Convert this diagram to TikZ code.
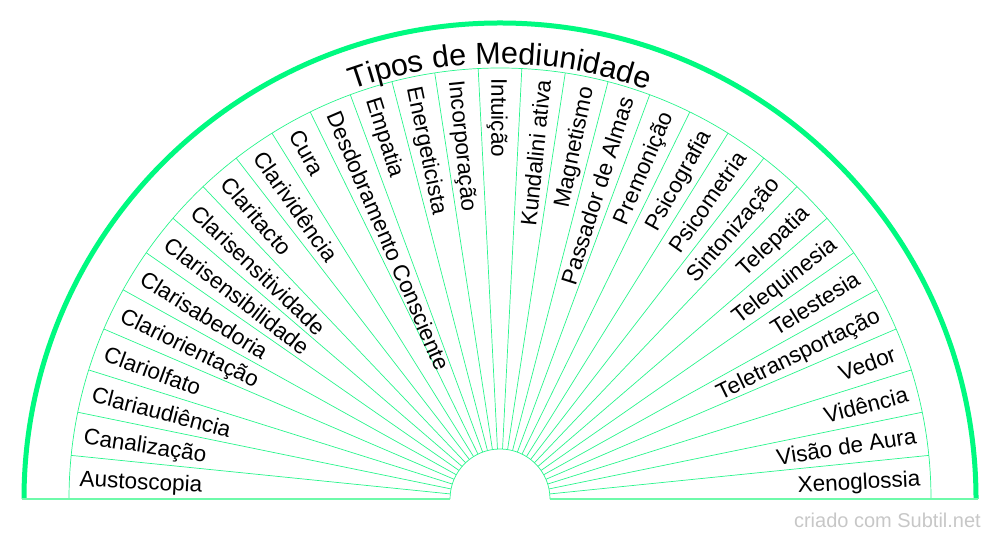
\documentclass[tikz,border=0pt]{standalone}
\usepackage{fontspec}
\setmainfont{Liberation Sans}
\usetikzlibrary{decorations.text}
\definecolor{gthick}{RGB}{0,250,128}
\definecolor{gthin}{RGB}{40,245,140}
\definecolor{gbase}{RGB}{110,250,170}
\begin{document}
\begin{tikzpicture}[x=1pt,y=1pt,
  thinl/.style={draw=gthin,line width=0.7pt},
  lbl/.style={font=\fontsize{22.5}{23}\selectfont,inner sep=0pt}]
\useasboundingbox (0,0) rectangle (1000,540);
\coordinate (c) at (500,41);
\draw[draw=gthick,line width=5pt] ([shift={(180:476)}]c) arc[start angle=180,end angle=0,radius=476];
\draw[thinl] ([shift={(180:431)}]c) arc[start angle=180,end angle=0,radius=431];
\draw[thinl] ([shift={(180:50)}]c) arc[start angle=180,end angle=0,radius=50];
\foreach \k in {1,...,30}{
  \draw[thinl] ([shift={(\k*180/31:50)}]c) -- ([shift={(\k*180/31:431)}]c);
}
\draw[draw=gbase,line width=2.5pt] ([shift={(180:478)}]c) -- ([shift={(180:50)}]c);
\draw[draw=gbase,line width=2.5pt] ([shift={(0:50)}]c) -- ([shift={(0:478)}]c);
\foreach \n [count=\i from 0] in {Austoscopia,Canalização,Clariaudiência,Clariolfato,Clariorientação,Clarisabedoria,Clarisensibilidade,Clarisensitividade,Claritacto,Clarividência,Cura,Desdobramento Consciente,Empatia,Energeticista,Incorporação,Intuição,Kundalini ativa,Magnetismo,Passador de Almas,Premonição,Psicografia,Psicometria,Sintonização,Telepatia,Telequinesia,Telestesia,Teletransportação,Vedor,Vidência,Visão de Aura,Xenoglossia}{
  \pgfmathsetmacro{\a}{180-(\i+0.5)*180/31}
  \ifnum\i<16
    \pgfmathsetmacro{\b}{\a+0.8}
    \node[lbl,anchor=mid west,rotate=\a+180] (l\i) at ([shift={(\b:421)}]c) {\n};
  \else
    \pgfmathsetmacro{\b}{\a-0.8}
    \node[lbl,anchor=mid east,rotate=\a] (l\i) at ([shift={(\b:421)}]c) {\n};
  \fi
}
\path[decorate,decoration={text along path,text align=center,
  text={|\fontsize{30.5}{30}\selectfont|Tipos de Mediunidade}}]
  ([shift={(180:435)}]c) arc[start angle=180,end angle=0,radius=435];
\node[font=\fontsize{20}{20}\selectfont,text=black!22,anchor=south east,inner sep=0pt] (wm) at (981,12) {criado com Subtil.net};
\end{tikzpicture}
\end{document}
